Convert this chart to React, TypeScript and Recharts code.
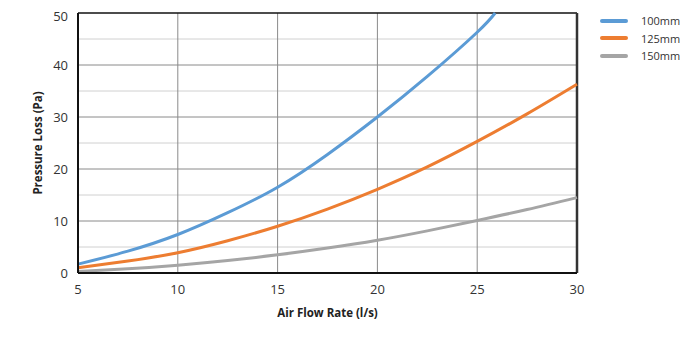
import React from 'react';
import {
  LineChart,
  Line,
  XAxis,
  YAxis,
  CartesianGrid,
  ReferenceLine,
  Legend,
} from 'recharts';

const flowRates = [5, 7.5, 10, 12.5, 15, 17.5, 20, 22.5, 25, 25.9, 27.5, 30];
const duct100 = [1.7, 4.2, 7.4, 11.6, 16.5, 22.8, 30, 37.8, 46.3, 50, null, null];
const duct125 = [1.0, 2.3, 3.9, 6.2, 9.0, 12.3, 16.1, 20.4, 25.3, null, 30.6, 36.3];
const duct150 = [0.3, 0.8, 1.5, 2.4, 3.5, 4.8, 6.3, 8.1, 10.1, null, 12.2, 14.5];

const xTicks = [5, 10, 15, 20, 25, 30];
const yTicks = [0, 10, 20, 30, 40, 50];
const minorY = [5, 15, 25, 35, 45];

const series = [
  { key: 'd100', name: '100mm', color: '#5B9BD5' },
  { key: 'd125', name: '125mm', color: '#ED7D31' },
  { key: 'd150', name: '150mm', color: '#A5A5A5' },
];

const data = flowRates.map((x, i) => ({
  x,
  d100: duct100[i],
  d125: duct125[i],
  d150: duct150[i],
}));

const font = '"Open Sans", sans-serif';

const LegendBox = () => (
  <div style={{ fontFamily: font, fontSize: 11, color: '#333' }}>
    {series.map((s) => (
      <div key={s.key} style={{ display: 'flex', alignItems: 'center', height: 17.5 }}>
        <div style={{ width: 28, height: 4, borderRadius: 2, background: s.color }} />
        <span style={{ marginLeft: 13 }}>{s.name}</span>
      </div>
    ))}
  </div>
);

export default function App() {
  return (
    <LineChart
      width={684}
      height={337}
      data={data}
      margin={{ top: 5, right: 115, left: 0, bottom: 0 }}
    >
      <CartesianGrid stroke="#d0d0d0" horizontalValues={minorY} vertical={false} />
      <CartesianGrid stroke="#8a8a8a" horizontalValues={[10, 20, 30, 40]} verticalValues={[10, 15, 20, 25]} />
      <ReferenceLine y={50} stroke="#111" strokeWidth={1.5} />
      <ReferenceLine x={30} stroke="#333" strokeWidth={2.5} />
      <XAxis
        dataKey="x"
        type="number"
        domain={[5, 30]}
        ticks={xTicks}
        height={72}
        tickLine={false}
        axisLine={{ stroke: '#111', strokeWidth: 2 }}
        tick={{ fontSize: 13, fill: '#333', fontFamily: font }}
        tickMargin={6}
        label={{
          value: 'Air Flow Rate (l/s)',
          position: 'insideBottom',
          offset: 28,
          style: { fontSize: 11.5, fontWeight: 700, fill: '#222', fontFamily: font },
        }}
      />
      <YAxis
        type="number"
        domain={[0, 50]}
        ticks={yTicks}
        width={70}
        tickLine={false}
        axisLine={{ stroke: '#111', strokeWidth: 2 }}
        tick={{ fontSize: 13, fill: '#333', fontFamily: font }}
        tickMargin={4}
        label={{
          value: 'Pressure Loss  (Pa)',
          angle: -90,
          position: 'insideLeft',
          offset: 30,
          style: { textAnchor: 'middle', fontSize: 11.5, fontWeight: 700, fill: '#222', fontFamily: font, whiteSpace: 'pre' },
        }}
      />
      <Legend
        layout="vertical"
        align="center"
        verticalAlign="middle"
        content={<LegendBox />}
        wrapperStyle={{ left: 592, top: 4, width: 90 }}
      />
      {series.map((s) => (
        <Line
          key={s.key}
          dataKey={s.key}
          name={s.name}
          type="natural"
          stroke={s.color}
          strokeWidth={3}
          dot={false}
          connectNulls
          isAnimationActive={false}
        />
      ))}
    </LineChart>
  );
}
